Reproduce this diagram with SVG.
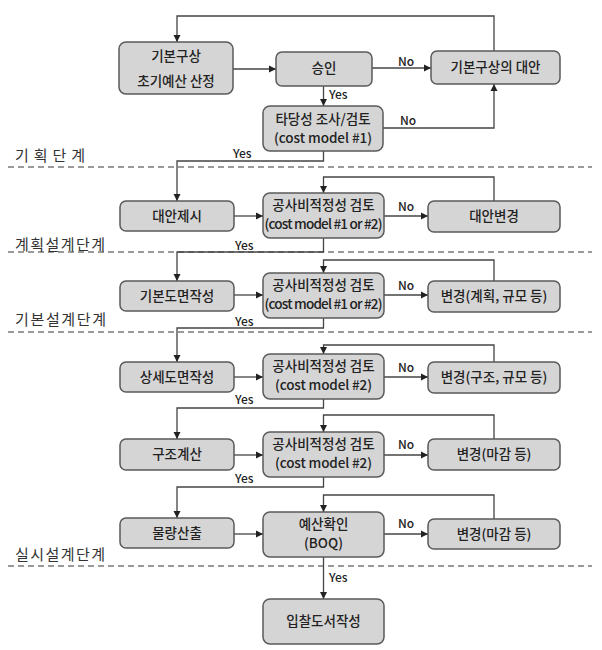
<svg xmlns="http://www.w3.org/2000/svg" width="602" height="650" viewBox="0 0 602 650">
<style>
.box{fill:#d5d5d5;stroke:#5a5a5a;stroke-width:1.5}
.t{font-family:"Noto Sans CJK KR","Noto Sans",sans-serif;font-size:13.5px;font-weight:500;fill:#222;text-anchor:middle}
.lbl{font-family:"Noto Sans CJK KR","Noto Sans",sans-serif;font-size:12px;font-weight:500;fill:#222}
.phase{font-family:"Noto Sans CJK KR","Noto Sans",sans-serif;font-size:15px;fill:#333}
.c{fill:none;stroke:#444;stroke-width:1.3;marker-end:url(#a)}
.d{stroke:#7a7a7a;stroke-width:1.5;stroke-dasharray:6 4}
</style>
<defs>
<marker id="a" markerWidth="8" markerHeight="8" refX="7" refY="4" orient="auto" markerUnits="userSpaceOnUse"><path d="M0,0.5 L7,4 L0,7.5 z" fill="#222"/></marker>
</defs>
<rect width="602" height="650" fill="#fff"/>

<g id="phases">
<line class="d" x1="8" y1="167" x2="592" y2="167"/>
<line class="d" x1="8" y1="252" x2="592" y2="252"/>
<line class="d" x1="8" y1="332" x2="592" y2="332"/>
<line class="d" x1="8" y1="566" x2="592" y2="566"/>
<text class="phase" x="15" y="161" textLength="70">기획단계</text>
<text class="phase" x="15" y="250" textLength="90">계획설계단계</text>
<text class="phase" x="15" y="325" textLength="91">기본설계단계</text>
<text class="phase" x="15" y="560" textLength="90">실시설계단계</text>
</g>

<g id="connectors">
<path class="c" d="M494,51 V16 H177 V42"/>
<path class="c" d="M233,69 H276"/>
<path class="c" d="M372,68 H431"/>
<path class="c" d="M323.5,86 V106"/>
<path class="c" d="M383,128 H494 V84"/>
<path class="c" d="M323.5,151 V161 H177 V201"/>
<path class="c" d="M234,216 H263"/>
<path class="c" d="M384,216 H428"/>
<path class="c" d="M494,201 V177 H323.5 V193"/>
<path class="c" d="M323.5,238 V252 H177 V281"/>
<path class="c" d="M234,295 H263"/>
<path class="c" d="M384,295 H428"/>
<path class="c" d="M494,281 V260 H323.5 V273"/>
<path class="c" d="M323.5,318 V328 H177 V362"/>
<path class="c" d="M234,377 H263"/>
<path class="c" d="M384,377 H428"/>
<path class="c" d="M494,362 V345 H323.5 V354"/>
<path class="c" d="M323.5,399 V408 H177 V439"/>
<path class="c" d="M234,455 H263"/>
<path class="c" d="M384,455 H428"/>
<path class="c" d="M494,439 V415 H323.5 V432"/>
<path class="c" d="M323.5,477 V487 H177 V518"/>
<path class="c" d="M234,534 H263"/>
<path class="c" d="M384,534 H428"/>
<path class="c" d="M494,519 V495 H323.5 V512"/>
<path class="c" d="M323.5,557 V599"/>
<text class="lbl" x="398" y="66">No</text>
<text class="lbl" x="329" y="99">Yes</text>
<text class="lbl" x="400" y="125">No</text>
<text class="lbl" x="233" y="158">Yes</text>
<text class="lbl" x="398" y="211">No</text>
<text class="lbl" x="235" y="250">Yes</text>
<text class="lbl" x="398" y="290">No</text>
<text class="lbl" x="235" y="326">Yes</text>
<text class="lbl" x="398" y="372">No</text>
<text class="lbl" x="235" y="404">Yes</text>
<text class="lbl" x="398" y="449">No</text>
<text class="lbl" x="235" y="483">Yes</text>
<text class="lbl" x="398" y="528">No</text>
<text class="lbl" x="329" y="582">Yes</text>
</g>

<g id="n-basic">
<rect class="box" x="119" y="42" width="114" height="52" rx="7"/>
<text class="t" x="176" y="61">기본구상</text>
<text class="t" x="176" y="86">초기예산 산정</text>
</g>
<g id="n-approve">
<rect class="box" x="276" y="52" width="96" height="34" rx="6"/>
<text class="t" x="324" y="73">승인</text>
</g>
<g id="n-alt">
<rect class="box" x="431" y="51" width="129" height="33" rx="6"/>
<text class="t" x="495.5" y="72">기본구상의 대안</text>
</g>
<g id="n-feas">
<rect class="box" x="263" y="106" width="120" height="45" rx="7"/>
<text class="t" x="323" y="124">타당성 조사/검토</text>
<text class="t" x="323" y="143" textLength="98">(cost model #1)</text>
</g>

<g id="n-r1-left">
<rect class="box" x="120" y="201" width="114" height="30" rx="6"/>
<text class="t" x="177" y="221">대안제시</text>
</g>
<g id="n-r1-mid">
<rect class="box" x="263" y="193" width="121" height="45" rx="7"/>
<text class="t" x="323.5" y="210">공사비적정성 검토</text>
<text class="t" x="323.5" y="229" textLength="118">(cost model #1 or #2)</text>
</g>
<g id="n-r1-right">
<rect class="box" x="428" y="201" width="132" height="31" rx="6"/>
<text class="t" x="494" y="221">대안변경</text>
</g>

<g id="n-r2-left">
<rect class="box" x="120" y="281" width="114" height="30" rx="6"/>
<text class="t" x="177" y="301">기본도면작성</text>
</g>
<g id="n-r2-mid">
<rect class="box" x="263" y="273" width="121" height="45" rx="7"/>
<text class="t" x="323.5" y="290">공사비적정성 검토</text>
<text class="t" x="323.5" y="309" textLength="118">(cost model #1 or #2)</text>
</g>
<g id="n-r2-right">
<rect class="box" x="428" y="281" width="132" height="31" rx="6"/>
<text class="t" x="494" y="301">변경(계획, 규모 등)</text>
</g>

<g id="n-r3-left">
<rect class="box" x="120" y="362" width="114" height="30" rx="6"/>
<text class="t" x="177" y="382">상세도면작성</text>
</g>
<g id="n-r3-mid">
<rect class="box" x="263" y="354" width="121" height="45" rx="7"/>
<text class="t" x="323.5" y="371">공사비적정성 검토</text>
<text class="t" x="323.5" y="390" textLength="97">(cost model #2)</text>
</g>
<g id="n-r3-right">
<rect class="box" x="428" y="362" width="132" height="31" rx="6"/>
<text class="t" x="494" y="382">변경(구조, 규모 등)</text>
</g>

<g id="n-r4-left">
<rect class="box" x="120" y="439" width="114" height="31" rx="6"/>
<text class="t" x="177" y="459">구조계산</text>
</g>
<g id="n-r4-mid">
<rect class="box" x="263" y="432" width="121" height="45" rx="7"/>
<text class="t" x="323.5" y="449">공사비적정성 검토</text>
<text class="t" x="323.5" y="468" textLength="97">(cost model #2)</text>
</g>
<g id="n-r4-right">
<rect class="box" x="428" y="439" width="132" height="31" rx="6"/>
<text class="t" x="494" y="459">변경(마감 등)</text>
</g>

<g id="n-r5-left">
<rect class="box" x="120" y="518" width="114" height="30" rx="6"/>
<text class="t" x="177" y="538">물량산출</text>
</g>
<g id="n-r5-mid">
<rect class="box" x="263" y="512" width="121" height="45" rx="7"/>
<text class="t" x="323.5" y="529">예산확인</text>
<text class="t" x="323.5" y="548">(BOQ)</text>
</g>
<g id="n-r5-right">
<rect class="box" x="428" y="519" width="132" height="30" rx="6"/>
<text class="t" x="494" y="539">변경(마감 등)</text>
</g>

<g id="n-bid">
<rect class="box" x="263" y="599" width="121" height="45" rx="7"/>
<text class="t" x="323.5" y="626">입찰도서작성</text>
</g>
</svg>
